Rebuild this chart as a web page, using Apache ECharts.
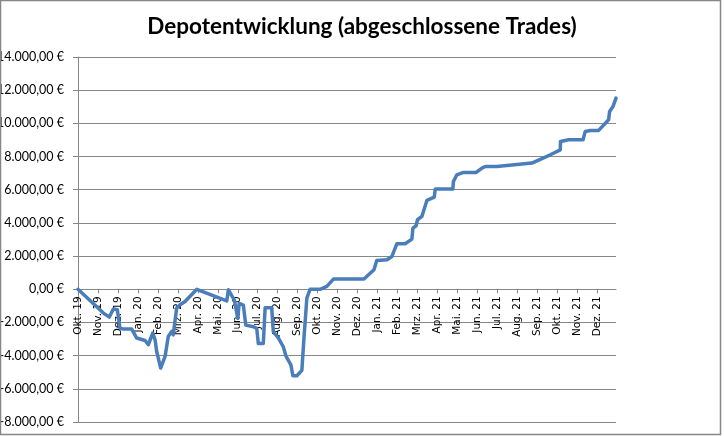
<!DOCTYPE html>
<html>
<head>
<meta charset="utf-8">
<script src="https://cdn.jsdelivr.net/npm/echarts@6/dist/echarts.min.js"></script>
<style>html,body{margin:0;padding:0;background:#fff}#c{width:724px;height:436px}</style>
</head>
<body>
<div id="c"></div>
<script>
// Month labels (x positions are months since Okt. 19)
const monthLabels = ["Okt. 19","Nov. 19","Dez. 19","Jan. 20","Feb. 20","Mrz. 20","Apr. 20","Mai. 20","Jun. 20","Jul. 20","Aug. 20","Sep. 20","Okt. 20","Nov. 20","Dez. 20","Jan. 21","Feb. 21","Mrz. 21","Apr. 21","Mai. 21","Jun. 21","Jul. 21","Aug. 21","Sep. 21","Okt. 21","Nov. 21","Dez. 21"];
// Time of each closed trade, in months since 1 Okt. 2019
const tradeTime = [0,1.27,1.57,1.77,1.97,2.10,2.27,2.69,2.94,3.36,3.52,3.74,3.86,3.94,4.14,4.36,4.52,4.69,4.77,4.94,5.11,5.36,5.95,7.45,7.53,7.83,8.00,8.07,8.28,8.40,8.79,8.95,9.03,9.28,9.37,9.70,9.78,10.03,10.28,10.42,10.66,10.76,10.96,11.21,11.32,11.46,11.62,12.12,12.46,12.79,14.32,14.82,14.96,15.47,15.72,15.97,16.38,16.72,16.77,16.93,17.00,17.22,17.47,17.84,17.89,18.77,18.80,18.97,19.30,19.93,20.23,20.39,20.97,22.73,23.65,24.15,24.16,24.57,25.29,25.40,25.65,26.07,26.57,26.62,26.79,26.94];
// Depot value (EUR)
const depotValue = [0,-1435,-1676,-1194,-1236,-2340,-2400,-2400,-2940,-3085,-3345,-2640,-3045,-3750,-4750,-4050,-2845,-2540,-2745,-1135,-935,-735,0,-700,-30,-650,-1760,-855,-950,-2160,-2260,-2360,-3265,-3265,-1115,-1115,-2560,-2935,-3465,-4050,-4550,-5215,-5215,-4890,-2845,-530,0,0,170,615,615,1175,1735,1780,1980,2745,2745,3025,3690,3830,4190,4390,5355,5555,6040,6040,6500,6900,7040,7040,7305,7400,7400,7605,8105,8405,8910,9010,9010,9510,9575,9575,10215,10720,11020,11525];
// Y axis range
const yMin = -8000, yMax = 14000, yStep = 2000;

const title = "Depotentwicklung (abgeschlossene Trades)";

function fmtEuro(v){
  const neg = v < 0;
  const s = Math.abs(Math.round(v)).toString().replace(/\B(?=(\d{3})+(?!\d))/g, ".");
  return (neg ? "-" : "") + s + ",00 €";
}

const data = tradeTime.map((t,i)=>[t, depotValue[i]]);

const W = 724, H = 436;
const gridTop = 57, gridBottom = 14;
const plotH = H - gridTop - gridBottom;
// move the x axis (line + labels) up to the zero line
const zeroOffset = -plotH * (0 - yMin) / (yMax - yMin);

const chart = echarts.init(document.getElementById('c'), null, {renderer:'canvas'});
chart.setOption({
  backgroundColor:'#ffffff',
  animation:false,
  title:{
    text:title, left:'center', top:10,
    textStyle:{fontFamily:'Lato', fontWeight:'bold', fontSize:22.5, color:'#000'}
  },
  grid:{left:78, right:108, top:gridTop, bottom:gridBottom, containLabel:false, outerBoundsMode:'none'},
  xAxis:{
    type:'value', min:0, max:26.94, interval:1, position:'bottom', offset:zeroOffset,
    axisLine:{show:true, onZero:false, lineStyle:{color:'#868686', width:1}},
    axisTick:{show:true, length:4, lineStyle:{color:'#868686'}},
    splitLine:{show:false},
    axisLabel:{
      rotate:90, margin:7, fontFamily:'DejaVu Sans', fontSize:10.5, color:'#000',
      showMaxLabel:false, hideOverlap:false,
      formatter:function(v){ const i=Math.round(v); return (Math.abs(v-i)<1e-6 && monthLabels[i]) ? monthLabels[i] : ''; }
    }
  },
  yAxis:{
    type:'value', min:yMin, max:yMax, interval:yStep,
    axisLine:{show:true, lineStyle:{color:'#868686', width:1}},
    axisTick:{show:true, length:5, lineStyle:{color:'#868686'}},
    splitLine:{show:true, lineStyle:{color:'#868686', width:1}},
    axisLabel:{margin:14, fontFamily:'Lato', fontSize:12.5, color:'#000', formatter:fmtEuro}
  },
  series:[{
    type:'line', data:data, showSymbol:false, smooth:false,
    lineStyle:{color:'#4a7ebb', width:3.5, cap:'round', join:'round'}
  }],
  graphic:[{
    type:'rect', silent:true, z:100,
    shape:{x:0.5, y:0.5, width:720, height:434},
    style:{fill:'none', stroke:'#868686', lineWidth:1.5}
  }]
});
</script>
</body>
</html>
